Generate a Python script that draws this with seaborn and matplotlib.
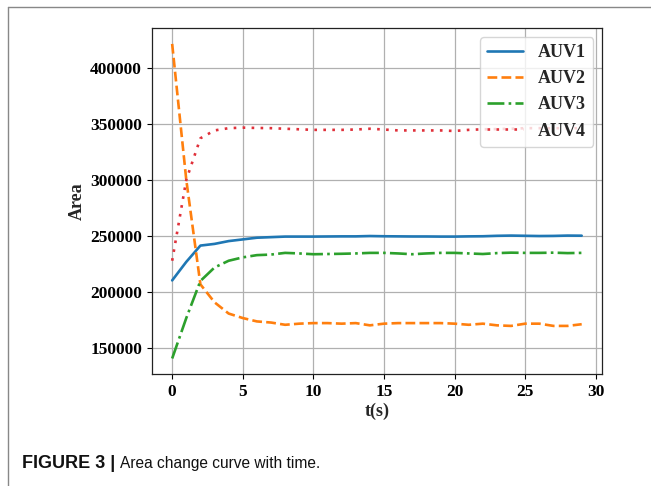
import numpy as np
import pandas as pd
import matplotlib
matplotlib.use("Agg")
import matplotlib.pyplot as plt
from matplotlib.lines import Line2D
import seaborn as sns

t = list(range(30))
auv1 = [210500, 227000, 241500, 243000, 245500, 247000, 248500, 249000, 249500, 249500,
        249500, 249600, 249700, 249700, 250000, 249800, 249700, 249600, 249600, 249500,
        249500, 249700, 249800, 250200, 250400, 250200, 250000, 250100, 250400, 250300]
auv2 = [421000, 300000, 207000, 191000, 181000, 177000, 174000, 173000, 171000, 172000,
        172500, 172500, 172000, 172500, 170500, 172000, 172500, 172500, 172500, 172500,
        172000, 171000, 172000, 170500, 170000, 172000, 172000, 170000, 170000, 171500]
auv3 = [141000, 177000, 210000, 222000, 228000, 231000, 233000, 233500, 235000, 234500,
        233800, 234000, 234200, 234500, 235000, 235000, 234500, 233800, 234500, 235000,
        235000, 234500, 234000, 234800, 235200, 235000, 235000, 235200, 234800, 235000]
auv4 = [228000, 300000, 337000, 344000, 346000, 346500, 346200, 346000, 345500, 345000,
        344500, 344500, 344500, 344800, 345500, 344800, 344000, 344000, 344000, 344000,
        343500, 344500, 345000, 345200, 345500, 346000, 346000, 346000, 346000, 346000]

names = ["AUV1", "AUV2", "AUV3", "AUV4"]
series = [auv1, auv2, auv3, auv4]
colors = ["#1f77b4", "#ff7f0e", "#2ca02c", "#e0303a"]
styles = ["-", "--", "-.", (0, (1, 2.4))]

sns.set_style("ticks")
plt.rcParams["font.family"] = ["Liberation Serif", "DejaVu Serif"]
plt.rcParams["font.weight"] = "bold"

fig = plt.figure(figsize=(6.51, 4.86), dpi=100)
ax = fig.add_axes([0.233, 0.23, 0.692, 0.712])

for name, vals, c, ls in zip(names, series, colors, styles):
    df = pd.DataFrame({"t": t, "Area": vals})
    sns.lineplot(data=df, x="t", y="Area", ax=ax, color=c, linestyle=ls,
                 linewidth=1.9, label=name)

ax.grid(True, color="#b0b0b0", linewidth=0.9)
ax.set_xticks([0, 5, 10, 15, 20, 25, 30])
ax.set_yticks([150000, 200000, 250000, 300000, 350000, 400000])
ax.tick_params(labelsize=12.5, direction="out", length=3.5, width=0.8, colors="black")
for lab in ax.get_xticklabels() + ax.get_yticklabels():
    lab.set_fontweight("bold")
ax.set_xlabel("t(s)", fontsize=13, fontweight="bold", labelpad=2)
ax.set_ylabel("Area", fontsize=13, fontweight="bold", labelpad=3)
for sp in ax.spines.values():
    sp.set_color("#222222")
    sp.set_linewidth(0.9)

leg = ax.legend(loc="upper right", prop={"size": 13, "weight": "bold"},
                fancybox=True, framealpha=0.8, handlelength=2.0)

# outer frame of the figure panel
fig.add_artist(Line2D([8 / 651, 1.0], [1 - 7 / 486, 1 - 7 / 486], color="#888888", linewidth=1.0))
fig.add_artist(Line2D([8 / 651, 8 / 651], [0.0, 1 - 7 / 486], color="#888888", linewidth=1.0))

cap1 = fig.text(22 / 651, 1 - 463 / 486, "FIGURE 3 |", fontsize=13, fontweight="bold",
                family="Liberation Sans", va="center", color="#111111")
fig.canvas.draw()
bb = cap1.get_window_extent()
fig.text((bb.x1 + 5) / 651, 1 - 463 / 486, "Area change curve with time.", fontsize=11.2,
         fontweight="normal", family="Liberation Sans", va="center", color="#111111")

fig.savefig("out.png", dpi=100)
